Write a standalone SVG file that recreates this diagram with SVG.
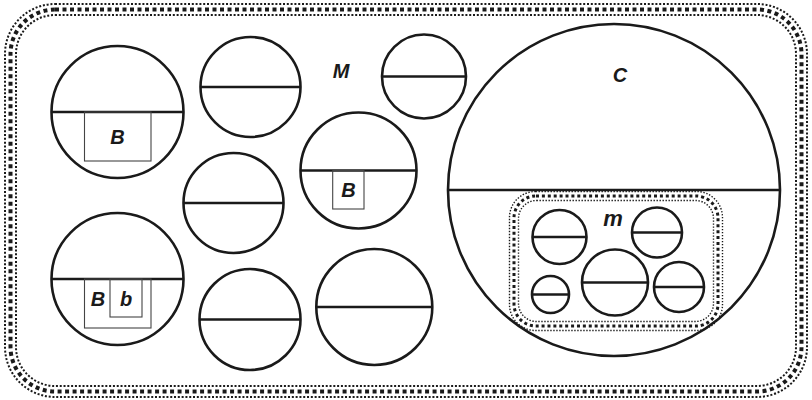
<svg xmlns="http://www.w3.org/2000/svg" width="812" height="400" viewBox="0 0 812 400">
<style>
.c{fill:none;stroke:#1a1a1a;stroke-width:2.6}
.d{stroke:#1a1a1a;stroke-width:2.6}
.bx{fill:none;stroke:#444;stroke-width:1.1}
.t{font-family:"Liberation Sans",Arial,sans-serif;font-weight:bold;font-style:italic;font-size:20px;fill:#1a1a1a;text-anchor:middle}
.o1{fill:none;stroke:#1a1a1a;stroke-width:2;stroke-dasharray:2 1.8}
.o2{fill:none;stroke:#1a1a1a;stroke-width:4;stroke-dasharray:4 3.5}
.i1{fill:none;stroke:#1a1a1a;stroke-width:1.4;stroke-dasharray:1.4 1.6}
.i2{fill:none;stroke:#1a1a1a;stroke-width:3;stroke-dasharray:3 2.9}
</style>
<rect width="812" height="400" fill="#fff"/>
<g id="M">
<rect class="o1" x="5" y="4" width="802" height="393" rx="50"/>
<rect class="o2" x="10.5" y="9.5" width="791" height="382" rx="44.5"/>
<rect class="o1" x="16" y="15" width="780" height="371" rx="39"/>
<text class="t" x="341" y="78">M</text>
</g>
<g id="n1">
<circle class="c" cx="117.5" cy="112" r="66"/>
<line class="d" x1="51.5" y1="112" x2="183.5" y2="112"/>
<rect class="bx" x="84.5" y="112" width="66.5" height="49"/>
<text class="t" x="117.5" y="144">B</text>
</g>
<g id="n2">
<circle class="c" cx="250.5" cy="87" r="50"/>
<line class="d" x1="200.5" y1="87" x2="300.5" y2="87"/>
</g>
<g id="n3">
<circle class="c" cx="424" cy="76.5" r="42"/>
<line class="d" x1="382" y1="76.5" x2="466" y2="76.5"/>
</g>
<g id="n4">
<circle class="c" cx="233.5" cy="203" r="50"/>
<line class="d" x1="183.5" y1="203" x2="283.5" y2="203"/>
</g>
<g id="n5">
<circle class="c" cx="358.5" cy="170.5" r="58"/>
<line class="d" x1="300.5" y1="170.5" x2="416.5" y2="170.5"/>
<rect class="bx" x="332.7" y="170.5" width="31.3" height="38.5"/>
<text class="t" x="348.5" y="197">B</text>
</g>
<g id="n6">
<circle class="c" cx="117.5" cy="279" r="66"/>
<line class="d" x1="51.5" y1="279" x2="183.5" y2="279"/>
<rect class="bx" x="84.5" y="279" width="66.5" height="49"/>
<rect class="bx" x="110" y="279" width="32" height="38"/>
<text class="t" x="98" y="306">B</text>
<text class="t" x="126" y="306">b</text>
</g>
<g id="n7">
<circle class="c" cx="250" cy="319.5" r="50.5"/>
<line class="d" x1="199.5" y1="319.5" x2="300.5" y2="319.5"/>
</g>
<g id="n8">
<circle class="c" cx="374.3" cy="307" r="58"/>
<line class="d" x1="316.3" y1="307" x2="432.3" y2="307"/>
</g>
<g id="C">
<circle class="c" cx="614" cy="190" r="166"/>
<line class="d" x1="448" y1="190" x2="780" y2="190"/>
<text class="t" x="620" y="82">C</text>
</g>
<g id="m">
<rect class="i1" x="509.5" y="191.5" width="213" height="139" rx="26"/>
<rect class="i2" x="514" y="196" width="204" height="130" rx="22"/>
<rect class="i1" x="518.5" y="200.5" width="195" height="121" rx="18"/>
<text class="t" x="613" y="226" style="font-size:22px">m</text>
</g>
<g id="m1">
<circle class="c" cx="559.5" cy="237" r="27"/>
<line class="d" x1="532.5" y1="237" x2="586.5" y2="237"/>
</g>
<g id="m2">
<circle class="c" cx="657" cy="232.5" r="25"/>
<line class="d" x1="632" y1="232.5" x2="682" y2="232.5"/>
</g>
<g id="m3">
<circle class="c" cx="550.5" cy="294.5" r="18.5"/>
<line class="d" x1="532" y1="294.5" x2="569" y2="294.5"/>
</g>
<g id="m4">
<circle class="c" cx="615" cy="282.5" r="33"/>
<line class="d" x1="582" y1="282.5" x2="648" y2="282.5"/>
</g>
<g id="m5">
<circle class="c" cx="679" cy="287" r="25"/>
<line class="d" x1="654" y1="287" x2="704" y2="287"/>
</g>
<g id="connectors"></g>
</svg>
